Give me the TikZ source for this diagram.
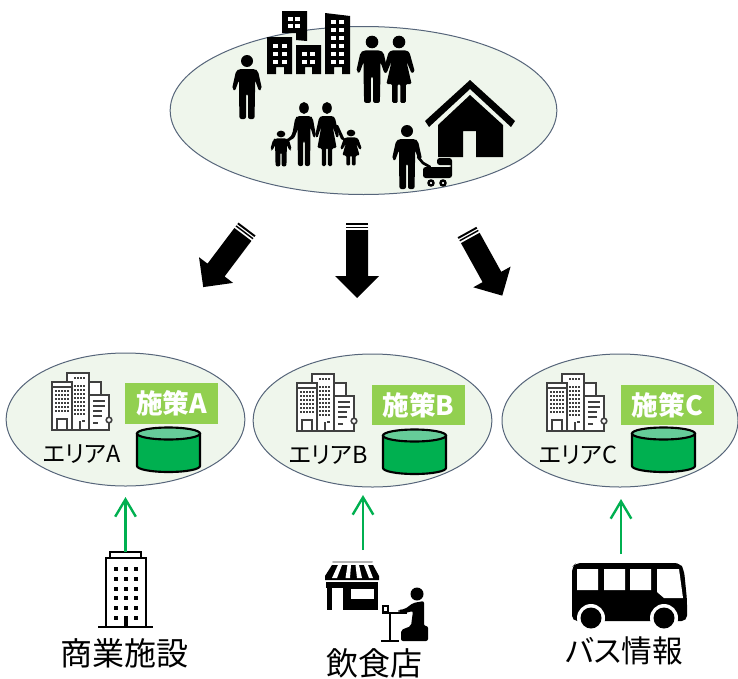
\documentclass[tikz,border=0pt]{standalone}
\usepackage{fontspec}
\usetikzlibrary{shapes.geometric,arrows.meta}
\setmainfont{Noto Sans CJK JP}[RawFeature=+palt]
\definecolor{ellfill}{HTML}{EFF6EC}
\definecolor{ellline}{HTML}{56657A}
\definecolor{lime}{HTML}{92D050}
\definecolor{grn}{HTML}{00B050}
\definecolor{grnlt}{HTML}{66CC99}
\definecolor{icon}{HTML}{404040}
\tikzset{
  zone/.style={ellipse,draw=ellline,fill=ellfill,line width=0.75pt,inner sep=0pt},
  smallzone/.style={zone,minimum width=179pt,minimum height=99.75pt},
  feed/.style={draw=grn,line width=1.8pt,line join=miter,-{Straight Barb[length=13pt,width=15.5pt,line width=1.8pt]}},
  big/.style={font=\fontsize{24}{26}\selectfont,inner sep=0pt},
  area/.style={font=\fontsize{17.6}{22}\selectfont,inner sep=0pt,text=black},
  tag/.style={fill=lime,text=white,font=\bfseries\fontsize{20}{22}\selectfont,minimum width=69.75pt,minimum height=30.5pt,inner sep=0pt},
  pics/male/.style={code={
    \fill (0,0) circle[radius=6];
    \fill[rounded corners=1.5] (-8,8)--(8,8)--(11,10)--(15,28)--(12,30)--(8,19)--(8,33)--(7.5,58)--(1,58)--(1,33)--(-1,33)--(-1,58)--(-7.5,58)--(-8,33)--(-8,19)--(-12,30)--(-15,28)--(-11,10)--cycle;
  }},
  pics/female/.style={code={
    \fill (0,0) circle[radius=6];
    \fill[rounded corners=1] (-7,8)--(7,8)--(10,10)--(15,28)--(12,30)--(7,18)--(12,40)--(6.5,40)--(6.5,58)--(1.2,58)--(1.2,40)--(-1.2,40)--(-1.2,58)--(-6.5,58)--(-6.5,40)--(-12,40)--(-7,18)--(-12,30)--(-15,28)--(-10,10)--cycle;
  }},
  pics/bigarrow/.style={code={
    \fill (-11,0) rectangle (11,2);
    \fill (-11,3.5) rectangle (11,5);
    \fill (-11,7) -- (11,7) -- (11,53) -- (22,53) -- (0,75) -- (-22,53) -- (-11,53) -- cycle;
  }},
  pics/towers/.style={code={
    \draw[icon,line width=1.3pt,fill=white] (37,9) rectangle (49,22);
    \draw[icon,line width=1.3pt,fill=white] (15,0) rectangle (37,57);
    \draw[icon,line width=1.3pt,fill=white] (0,9) rectangle (20,57);
    \draw[icon,line width=1.3pt,fill=white] (37,22) rectangle (57,57);
    \draw[icon,line width=1.3pt] (0,14) -- (20,14);
    \draw[icon,line width=1.3pt,fill=white] (5,46) rectangle (15,57);
    \draw[icon,line width=1.3pt] (28,48) -- (28,57) (30,48) -- (33,48);
    \foreach \yy in {18,22,26,30,34,38} \foreach \xx in {4,7,10,13,16}
      \fill[icon] (\xx-.7,\yy-.7) rectangle (\xx+.7,\yy+.7);
    \foreach \yy in {5} \foreach \xx in {23,26,29,32}
      \fill[icon] (\xx-.7,\yy-.7) rectangle (\xx+.7,\yy+.7);
    \foreach \yy in {13,17,21,25,29,33,37,41} \foreach \xx in {23,26,29,32}
      \fill[icon] (\xx-.7,\yy-.7) rectangle (\xx+.7,\yy+.7);
    \draw[icon,line width=1.2pt] (41,28)--(53,28) (41,33)--(53,33) (41,38)--(50,38) (41,43)--(50,43) (41,50)--(46,50);
    \draw[icon,line width=1.2pt,fill=white] (57,47) circle[radius=2.8];
    \draw[icon,line width=1.2pt] (57,50)--(57,57)--(50,57);
  }},
  pics/drum/.style={code={
    \draw[black,line width=1.6pt,fill=grn] (0,7) -- (0,39) arc[start angle=180,end angle=360,x radius=31.5,y radius=-6] -- (63,7) -- cycle;
    \draw[black,line width=1.6pt,fill=grnlt] (31.5,6.5) ellipse[x radius=31.5,y radius=6];
  }}
}
\begin{document}
\begin{tikzpicture}[x=0.75pt,y=-0.75pt]
\useasboundingbox (0,0) rectangle (738,678);
% ---- population ellipse
\node[zone,minimum width=290pt,minimum height=126pt] (pop) at (363.5,110.5) {};
% office blocks
\fill (282,11)--(307,11)--(307,41)--(296,40)--(296,33)--(282,33)--cycle;
\fill (267,37)--(292,37)--(292,74)--(284,74)--(284,67)--(276,67)--(276,74)--(267,74)--cycle;
\fill (296,45)--(321,45)--(321,74)--(312,74)--(312,67)--(305,67)--(305,74)--(296,74)--cycle;
\fill (325,13)--(350,16)--(350,74)--(342,74)--(342,67)--(334,67)--(334,74)--(325,74)--cycle;
\foreach \xx in {288,295} \foreach \yy in {17,24} \fill[white] (\xx,\yy) rectangle +(5,4);
\foreach \xx in {273,282} \foreach \yy in {44,52,60} \fill[white] (\xx,\yy) rectangle +(5,4);
\foreach \xx in {302,310} \foreach \yy in {52,60} \fill[white] (\xx,\yy) rectangle +(5,4);
\foreach \xx in {331,339} \foreach \yy in {20,28,36,44,52,60} \fill[white] (\xx,\yy) rectangle +(5,4);
% people
\pic at (247,61) {male};
\pic[scale=1.05] at (372,42) {male};
\pic[scale=1.05] at (399,42) {female};
\pic[xscale=.8] at (304,108) {male};
\pic[xscale=.8] at (327,108) {female};
\pic[xscale=.72,yscale=.56] at (281,134) {male};
\pic[xscale=.72,yscale=.56] at (351,133) {female};
\fill (296,125)--(299,127)--(294,138)--(286,143)--(285,141)--(291,136)--cycle;
\fill (335,125)--(338,125)--(344,138)--(349,141)--(348,143)--(341,139)--cycle;
\pic at (407,131) {male};
% house
\fill (470,80)--(515,121)--(511,127)--(470,89)--(429,127)--(425,121)--cycle;
\fill (470,95)--(503,125)--(503,157)--(476,157)--(476,131)--(463,131)--(463,157)--(438,157)--(438,125)--cycle;
% pram
\draw[line width=2pt,line cap=round] (418,157)--(423,163)--(430,167);
\fill[rounded corners=2] (437,158)--(452,158)--(452,178)--(423,178)--(423,167)--(452,167)--(452,165)--(437,165)--cycle;
\draw[line width=1.8pt,fill=white] (431,183) circle[radius=2.5] (443,183) circle[radius=2.5];
% ---- big arrows
\pic[rotate=-37,scale=.97] at (247,229) {bigarrow};
\pic at (357,223) {bigarrow};
\pic[rotate=29,scale=.97] at (467,232) {bigarrow};
% ---- area ellipses
\node[smallzone] (zoneA) at (125.5,419.5) {};
\node[smallzone] (zoneB) at (372.5,420.5) {};
\node[smallzone,minimum width=177pt] (zoneC) at (620,420.5) {};
\pic at (52,373) {towers};
\pic at (297,374) {towers};
\pic at (547,374) {towers};
\node[tag] (tagA) at (171.5,403.5) {施策A};
\node[tag] (tagB) at (418.5,405) {施策B};
\node[tag] (tagC) at (667.5,405) {施策C};
\pic at (137,427) {drum};
\pic at (383,429) {drum};
\pic at (632,427) {drum};
\node[area] (areaA) at (82,454) {エリアA};
\node[area] (areaB) at (328,455) {エリアB};
\node[area] (areaC) at (578,455) {エリアC};
% ---- sources
% commercial building
\draw[line width=1.2pt] (110,558) rectangle (141,552);
\draw[line width=1.2pt,fill=white] (106,558) rectangle (146,627);
\draw[line width=1.2pt] (98,627) -- (153,627);
\foreach \xx in {116,126,136} \foreach \yy in {569,579,589,598,608} \fill (\xx-2,\yy-2) rectangle (\xx+2,\yy+2);
\foreach \xx in {116,136} \fill (\xx-2,616) rectangle (\xx+2,620);
\fill (124,616) rectangle (128,627);
\coordinate (bldTop) at (125.5,552);
\coordinate (zoneAin) at (125.5,497);
% shop
\draw[gray!60,line width=1.5pt,line cap=round] (333,562)--(372,562);
\fill (332,565)--(373,565)--(379,576)--(379,580)--(325,580)--(325,576)--cycle;
\foreach \a/\b/\c/\d in {338/342/332/337,347.5/351/345.5/350,355.5/359/357/362,364/368/369/373}
  \fill[white] (\a,565) -- (\b,565) -- (\d,578) -- (\c,578) -- cycle;
\fill (326,582) rectangle (378,588);
\fill (327,582) rectangle (332,610);
\fill (343,582) rectangle (378,610);
\fill[white] (351,589) rectangle (374,599);
\coordinate (shopTop) at (363,550);
\coordinate (zoneBin) at (363,495);
% diner
\fill (417,594) circle[radius=6.5];
\fill[rounded corners=1.5] (413,603)--(424,601)--(424,626)--(428,626)--(428,641)--(401,641)--(401,630)--(411,626)--(413,611)--(405,613)--(398,612)--(398,610)--(405,609)--cycle;
\draw[line width=1pt] (382,613)--(407,613);
\draw[line width=1.2pt] (390,613)--(390,641);
\draw[line width=1.2pt] (381,641)--(399,641);
\draw[line width=1pt] (383,606) rectangle (388,612);
\coordinate (busTop) at (621,554);
\coordinate (zoneCin) at (621,499);
% bus
\fill[rounded corners=4] (576,563)--(680,563)--(684,570)--(687,600)--(687,621)--(572,621)--(572,567)--cycle;
\fill[white] (577,569) rectangle (598,590) (604,569) rectangle (625,590) (630,569) rectangle (651,590);
\fill[white] (657,569)--(679,569)--(683,598)--(664,598)--(657,592)--cycle;
\fill[white] (591,618) circle[radius=14] (664,618) circle[radius=14];
\fill[white] (570,621.5) rectangle (690,634);
\fill (591,618) circle[radius=10.5] (664,618) circle[radius=10.5];
% labels
\node[big] (lblShop) at (124,653) {商業施設};
\node[big] (lblFood) at (374.5,663) {飲食店};
\node[big,font=\fontsize{23}{26}\selectfont] (lblBus) at (624,651) {バス情報};
% green connectors
\draw[feed] (bldTop) -- (zoneAin);
\draw[feed] (shopTop) -- (zoneBin);
\draw[feed] (busTop) -- (zoneCin);
\end{tikzpicture}
\end{document}
